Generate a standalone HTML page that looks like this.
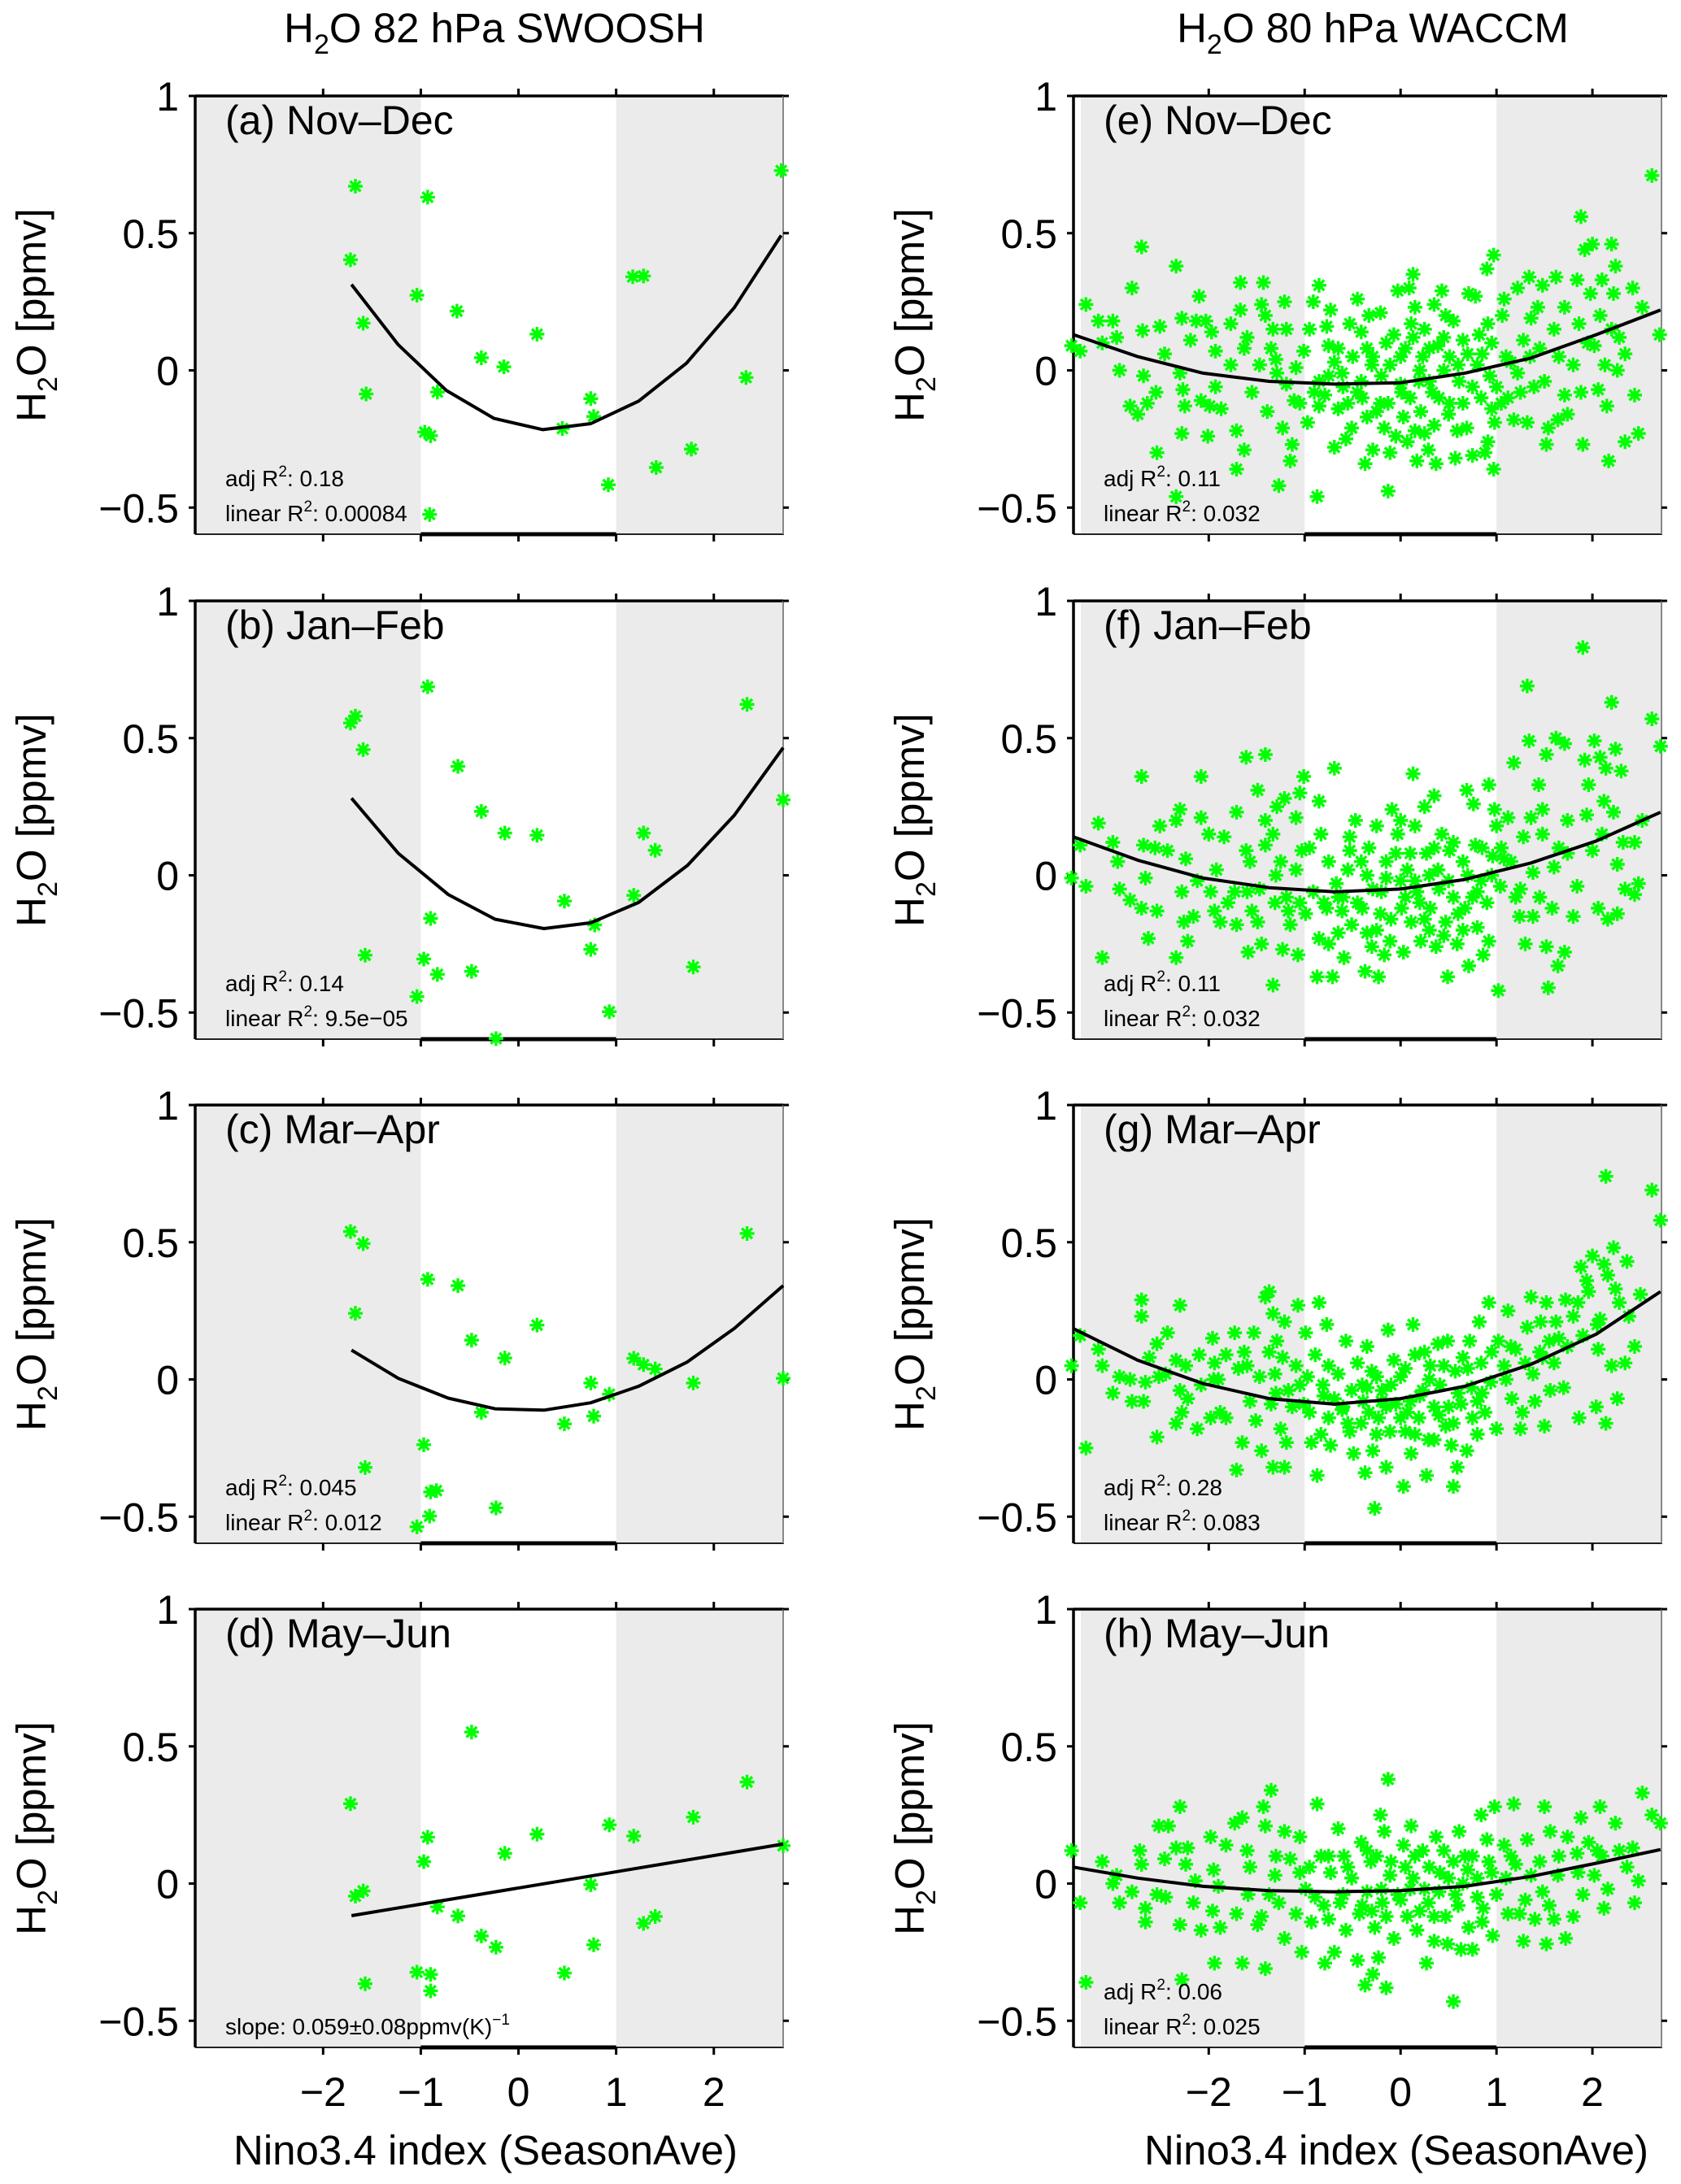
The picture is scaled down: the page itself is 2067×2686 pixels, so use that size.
<!DOCTYPE html>
<html><head><meta charset="utf-8"><title>H2O vs Nino3.4</title>
<style>
html,body{margin:0;padding:0;background:#fff;}
svg{display:block;font-family:"Liberation Sans",Arial,sans-serif;}
.stat{font-family:"Liberation Sans Narrow","Liberation Sans",sans-serif;}
</style></head>
<body>
<svg id="fig" xmlns="http://www.w3.org/2000/svg" width="2067" height="2686" viewBox="0 0 2067 2686">
<rect x="0" y="0" width="2067" height="2686" fill="#fff"/>
<text x="608" y="52" font-size="51" text-anchor="middle">H<tspan font-size="34" dy="14">2</tspan><tspan dy="-14">O 82 hPa SWOOSH</tspan></text>
<text x="1688" y="52" font-size="51" text-anchor="middle">H<tspan font-size="34" dy="14">2</tspan><tspan dy="-14">O 80 hPa WACCM</tspan></text>
<text x="597" y="2662" font-size="51" text-anchor="middle">Nino3.4 index (SeasonAve)</text>
<text x="1717" y="2662" font-size="51" text-anchor="middle">Nino3.4 index (SeasonAve)</text>
<g id="plots"></g>
</svg>
<script>
// ---------------- data ----------------
const xTicks = [-2, -1, 0, 1, 2];
const xTickLabels = ["\u22122", "\u22121", "0", "1", "2"];
const yTicks = [1, 0.5, 0, -0.5];
const yTickLabels = ["1", "0.5", "0", "\u22120.5"];

const aPts = [[-1.67,0.671],[-1.72,0.403],[-1.59,0.172],[-1.56,-0.086],[-0.93,0.631],[-1.04,0.274],[-0.63,0.216],[-0.83,-0.079],[-0.96,-0.225],[-0.90,-0.238],[-0.91,-0.525],[-0.38,0.046],[-0.15,0.013],[0.19,0.132],[0.45,-0.212],[0.74,-0.103],[0.77,-0.168],[0.92,-0.417],[1.17,0.341],[1.28,0.344],[1.41,-0.354],[1.77,-0.287],[2.33,-0.026],[2.69,0.728]];
const aCurveX = [-1.71,-1.23,-0.74,-0.25,0.25,0.74,1.23,1.72,2.21,2.69];
const aCurveY = [0.313,0.093,-0.073,-0.175,-0.216,-0.194,-0.112,0.026,0.229,0.492];

const bPts = [[-1.72,0.555],[-1.67,0.58],[-1.59,0.458],[-0.93,0.687],[-0.62,0.397],[-0.38,0.233],[-0.14,0.154],[0.19,0.146],[1.28,0.154],[1.40,0.091],[0.47,-0.094],[1.18,-0.073],[0.78,-0.181],[0.74,-0.27],[-0.90,-0.157],[-1.57,-0.291],[-0.97,-0.305],[-0.83,-0.361],[-0.48,-0.35],[-1.04,-0.442],[0.93,-0.497],[-0.23,-0.595],[1.79,-0.334],[2.34,0.623],[2.71,0.275]];
const bCurveX = [-1.71,-1.23,-0.72,-0.24,0.26,0.74,1.23,1.73,2.21,2.71];
const bCurveY = [0.281,0.080,-0.070,-0.160,-0.194,-0.173,-0.099,0.036,0.219,0.465];

const cPts = [[-1.72,0.539],[-1.59,0.495],[-1.67,0.241],[-0.93,0.365],[-0.62,0.342],[0.19,0.198],[-0.48,0.143],[-0.14,0.078],[1.18,0.077],[1.28,0.054],[1.40,0.038],[0.74,-0.013],[1.79,-0.013],[2.71,0.004],[0.93,-0.054],[-0.38,-0.120],[0.47,-0.162],[0.77,-0.134],[-0.97,-0.238],[-1.57,-0.321],[-0.90,-0.410],[-0.84,-0.405],[-0.23,-0.468],[-0.91,-0.498],[-1.04,-0.537],[2.34,0.532]];
const cCurveX = [-1.71,-1.23,-0.72,-0.24,0.26,0.74,1.23,1.73,2.21,2.71];
const cCurveY = [0.107,0.004,-0.068,-0.107,-0.112,-0.085,-0.025,0.064,0.186,0.342];

const dPts = [[-1.72,0.291],[-1.59,-0.027],[-1.67,-0.046],[-1.57,-0.365],[-1.04,-0.323],[-0.90,-0.331],[-0.90,-0.391],[-0.97,0.080],[-0.93,0.169],[-0.83,-0.085],[-0.62,-0.118],[-0.48,0.552],[-0.38,-0.191],[-0.23,-0.232],[-0.14,0.110],[0.19,0.180],[0.47,-0.326],[0.74,-0.004],[0.77,-0.223],[0.93,0.214],[1.18,0.173],[1.28,-0.145],[1.40,-0.120],[1.79,0.242],[2.34,0.370],[2.71,0.138]];
const dCurveX = [-1.71, 2.71];
const dCurveY = [-0.117, 0.144];

const ePts = [[-3.43,0.09],[-3.34,0.07],[-3.28,0.24],[-3.15,0.18],[-3.0,0.18],[-2.96,0.12],[-3.11,0.10],[-2.93,0.0],[-2.80,0.30],[-2.70,0.45],[-2.69,0.145],[-2.68,-0.02],[-2.82,-0.13],[-2.74,-0.16],[-2.64,-0.12],[-2.55,-0.08],[-2.54,-0.30],[-2.51,0.16],[-2.46,0.06],[-2.34,0.38],[-2.34,-0.46],[-2.28,0.19],[-2.30,-0.01],[-2.27,-0.07],[-2.25,-0.13],[-2.28,-0.23],[-2.19,0.11],[-2.10,0.27],[-2.13,0.18],[-2.08,-0.11],[-2.03,0.18],[-2.01,-0.24],[-1.99,-0.13],[-1.97,0.14],[-1.93,0.07],[-1.93,-0.06],[-1.87,-0.14],[-1.77,0.17],[-1.77,0.02],[-1.71,-0.22],[-1.71,-0.36],[-1.67,0.32],[-1.67,0.22],[-1.63,0.08],[-1.63,-0.29],[-1.55,-0.08],[-1.47,0.02],[-1.43,0.32],[-1.45,0.24],[-1.41,0.20],[-1.39,-0.15],[-1.33,0.15],[-1.35,0.08],[-1.29,-0.01],[-1.27,-0.42],[-1.23,-0.21],[-1.21,0.25],[-1.19,0.15],[-1.19,-0.05],[-1.15,-0.33],[-1.13,-0.27],[-1.11,-0.11],[-1.09,0.01],[-1.01,0.07],[-0.97,-0.19],[-0.91,0.25],[-0.85,0.31],[-0.87,-0.46],[-0.85,-0.13],[-0.85,-0.04],[-0.79,-0.09],[-0.77,0.16],[-0.75,0.09],[-0.73,0.22],[-0.69,0.03],[-0.69,-0.28],[-0.65,-0.14],[-0.61,-0.01],[-0.57,-0.25],[-0.53,0.17],[-0.51,-0.21],[-0.45,0.26],[-0.45,-0.08],[-0.41,0.14],[-0.41,-0.04],[-0.37,-0.34],[-0.35,-0.17],[-0.33,0.20],[-0.29,0.05],[-0.29,-0.29],[-0.21,0.21],[-0.21,-0.12],[-0.17,-0.21],[-0.13,-0.44],[-0.13,-0.12],[-0.11,0.02],[-0.11,-0.30],[-0.07,0.13],[-0.05,-0.24],[-0.03,0.29],[0.01,-0.08],[0.03,-0.17],[0.07,-0.26],[0.09,0.30],[0.11,0.17],[0.13,0.35],[0.13,0.12],[0.15,0.23],[0.17,-0.33],[0.19,-0.04],[0.21,-0.15],[0.23,0.05],[0.25,-0.23],[0.29,-0.29],[0.33,-0.08],[0.35,0.24],[0.37,-0.34],[0.39,0.09],[0.43,0.29],[0.45,0.0],[0.47,0.20],[0.51,-0.12],[0.51,0.05],[0.57,-0.32],[0.59,-0.22],[0.61,-0.04],[0.65,0.11],[0.69,-0.21],[0.71,0.28],[0.75,-0.31],[0.78,0.27],[0.80,0.02],[0.82,0.13],[0.84,-0.10],[0.88,-0.30],[0.90,0.37],[0.91,0.17],[0.91,-0.26],[0.93,-0.02],[0.95,-0.14],[0.97,0.42],[0.97,-0.36],[0.98,-0.19],[1.0,-0.06],[1.06,0.20],[1.08,0.26],[1.10,0.05],[1.12,-0.10],[1.18,-0.18],[1.22,-0.01],[1.22,0.30],[1.28,0.11],[1.32,-0.19],[1.34,0.34],[1.36,0.19],[1.39,-0.06],[1.43,0.23],[1.48,0.31],[1.50,-0.04],[1.52,-0.27],[1.54,-0.21],[1.60,0.15],[1.62,0.34],[1.64,-0.18],[1.71,0.23],[1.71,-0.09],[1.74,-0.16],[1.80,0.02],[1.84,0.33],[1.86,0.17],[1.88,0.56],[1.90,-0.27],[1.88,-0.08],[1.92,0.44],[1.98,0.28],[2.0,0.46],[2.02,0.09],[2.06,-0.07],[2.08,0.20],[2.10,0.33],[2.13,0.02],[2.15,-0.13],[2.17,-0.33],[2.20,0.46],[2.22,0.28],[2.24,0.38],[2.26,0.0],[2.28,0.12],[2.34,-0.26],[2.34,0.06],[2.42,0.30],[2.44,-0.09],[2.48,-0.23],[2.52,0.23],[2.62,0.71],[2.70,0.13],[-0.6,-0.06],[-0.4,-0.1],[-0.2,-0.02],[0.0,-0.05],[0.2,0.0],[0.4,-0.1],[0.6,0.02],[-0.9,-0.08],[0.3,0.08],[-0.3,0.02],[0.7,0.06],[0.1,-0.1],[-0.5,0.05],[0.5,-0.16],[-0.55,-0.12],[-0.25,-0.15],[0.05,0.08],[0.35,-0.2],[0.65,-0.12],[0.85,0.06],[-0.75,-0.02],[-0.15,0.1],[0.15,-0.22],[0.45,0.12],[0.75,-0.06],[0.95,0.1],[-1.05,-0.12],[1.15,0.03],[1.25,-0.08],[1.45,0.08],[1.65,0.05],[1.95,0.1],[-1.3,0.04],[-1.6,0.12],[-0.95,0.15],[0.25,0.15],[0.55,0.18],[-0.35,0.08],[0.0,0.05],[0.3,-0.04],[-0.65,0.08],[1.05,-0.12],[1.35,0.05],[2.2,0.15]];
const eCurveX = [-3.41,-2.74,-2.06,-1.37,-0.69,0,0.67,1.36,2.04,2.71];
const eCurveY = [0.13,0.05,-0.01,-0.04,-0.05,-0.045,-0.01,0.045,0.13,0.22];

const fPts = [[-3.43,-0.01],[-3.28,-0.04],[-3.34,0.11],[-3.15,0.19],[-3.11,-0.30],[-3.0,0.12],[-2.95,0.05],[-2.93,-0.05],[-2.82,-0.09],[-2.70,0.36],[-2.70,-0.12],[-2.68,0.11],[-2.66,-0.01],[-2.63,-0.23],[-2.54,-0.13],[-2.56,0.10],[-2.51,0.18],[-2.43,0.09],[-2.34,-0.30],[-2.30,0.24],[-2.34,0.20],[-2.28,-0.06],[-2.26,-0.17],[-2.24,0.06],[-2.22,-0.24],[-2.16,-0.15],[-2.12,-0.02],[-2.08,0.36],[-2.08,0.21],[-2.0,0.15],[-1.98,-0.06],[-1.94,-0.13],[-1.92,0.02],[-1.88,-0.17],[-1.84,0.14],[-1.80,-0.10],[-1.73,-0.06],[-1.71,0.23],[-1.71,-0.18],[-1.61,0.43],[-1.61,0.09],[-1.59,-0.28],[-1.57,0.05],[-1.55,-0.13],[-1.49,0.31],[-1.49,-0.17],[-1.47,-0.05],[-1.45,-0.25],[-1.41,0.44],[-1.41,0.20],[-1.41,0.11],[-1.33,0.15],[-1.33,-0.40],[-1.31,-0.10],[-1.29,0.25],[-1.25,0.05],[-1.23,-0.27],[-1.21,0.28],[-1.19,-0.08],[-1.17,-0.13],[-1.15,-0.18],[-1.09,0.21],[-1.09,0.02],[-1.07,-0.29],[-1.05,0.30],[-1.03,0.09],[-1.01,0.36],[-0.99,-0.14],[-0.91,-0.06],[-0.87,-0.37],[-0.85,0.27],[-0.85,-0.23],[-0.83,0.15],[-0.77,-0.12],[-0.75,-0.25],[-0.71,-0.37],[-0.69,0.39],[-0.67,-0.03],[-0.65,-0.21],[-0.61,-0.13],[-0.59,-0.30],[-0.53,0.09],[-0.53,0.14],[-0.51,-0.18],[-0.47,0.20],[-0.45,-0.10],[-0.41,0.05],[-0.37,-0.35],[-0.35,-0.21],[-0.33,0.10],[-0.29,-0.05],[-0.25,0.18],[-0.23,-0.37],[-0.21,-0.14],[-0.17,-0.29],[-0.15,-0.01],[-0.11,-0.24],[-0.09,0.24],[-0.05,0.08],[-0.03,0.15],[0.01,-0.12],[0.03,-0.28],[0.07,0.02],[0.11,-0.17],[0.13,0.37],[0.15,0.18],[0.17,-0.06],[0.21,-0.24],[0.25,0.25],[0.27,0.08],[0.31,-0.12],[0.35,0.29],[0.37,-0.26],[0.39,0.02],[0.43,0.15],[0.47,-0.17],[0.49,-0.37],[0.51,0.09],[0.55,-0.08],[0.59,-0.25],[0.65,0.05],[0.67,-0.12],[0.69,0.31],[0.71,-0.33],[0.76,0.26],[0.78,0.11],[0.80,-0.19],[0.84,-0.02],[0.86,-0.29],[0.90,-0.10],[0.92,0.33],[0.92,-0.24],[0.96,0.07],[0.98,0.24],[1.0,0.18],[1.02,-0.42],[1.04,-0.04],[1.08,0.06],[1.12,0.21],[1.18,0.41],[1.20,-0.08],[1.24,-0.15],[1.28,0.14],[1.30,-0.25],[1.32,0.69],[1.34,0.49],[1.36,0.21],[1.38,0.01],[1.38,-0.15],[1.44,0.33],[1.48,0.24],[1.48,0.15],[1.52,0.44],[1.52,-0.26],[1.54,-0.41],[1.58,-0.12],[1.60,0.03],[1.62,0.50],[1.64,-0.33],[1.71,0.48],[1.71,-0.28],[1.74,0.20],[1.74,0.08],[1.80,-0.15],[1.84,-0.04],[1.90,0.83],[1.92,0.42],[1.94,0.22],[1.96,0.33],[2.0,0.09],[2.02,0.49],[2.06,-0.12],[2.08,0.43],[2.10,0.15],[2.12,0.27],[2.14,0.39],[2.16,-0.16],[2.20,0.63],[2.22,0.23],[2.24,0.46],[2.26,-0.14],[2.26,0.04],[2.30,0.38],[2.32,0.12],[2.34,-0.05],[2.44,0.12],[2.44,-0.07],[2.48,-0.03],[2.52,0.20],[2.62,0.57],[2.71,0.47],[-0.6,-0.08],[-0.4,-0.12],[-0.2,-0.06],[0.0,-0.02],[0.2,-0.1],[0.4,-0.05],[0.6,-0.14],[0.8,-0.06],[-0.1,-0.16],[0.3,-0.2],[-0.8,-0.1],[0.5,-0.02],[0.1,0.08],[-0.3,-0.26],[0.7,0.0],[-0.55,0.02],[-0.25,-0.2],[0.05,-0.08],[0.35,0.1],[0.65,-0.2],[0.85,0.1],[-0.75,0.05],[-0.15,0.05],[0.15,-0.02],[0.45,-0.22],[0.75,-0.08],[0.95,0.0],[-1.05,-0.1],[1.15,0.05],[1.25,-0.05],[1.45,-0.08],[1.65,0.1],[-1.3,0.0],[-1.6,-0.06],[-0.95,0.1],[0.25,-0.16],[0.55,0.12],[-0.35,0.0],[0.0,0.2],[0.3,0.0],[-0.65,-0.08],[1.05,0.1]];
const fCurveX = [-3.41,-2.74,-2.06,-1.37,-0.69,0,0.67,1.36,2.04,2.71];
const fCurveY = [0.14,0.055,-0.01,-0.045,-0.06,-0.05,-0.015,0.045,0.125,0.23];

const gPts = [[-3.43,0.05],[-3.34,0.16],[-3.28,-0.25],[-3.15,0.11],[-3.11,0.05],[-3.0,-0.05],[-2.93,0.01],[-2.82,0.0],[-2.80,-0.08],[-2.70,0.29],[-2.70,0.23],[-2.68,-0.08],[-2.66,-0.01],[-2.62,0.08],[-2.54,-0.21],[-2.54,0.13],[-2.52,0.01],[-2.43,0.17],[-2.34,0.07],[-2.34,-0.16],[-2.30,0.27],[-2.30,-0.04],[-2.28,-0.12],[-2.24,0.05],[-2.22,-0.07],[-2.12,-0.18],[-2.10,0.09],[-2.08,-0.02],[-1.98,-0.14],[-1.96,0.15],[-1.94,0.06],[-1.90,0.0],[-1.88,-0.12],[-1.82,-0.14],[-1.82,0.09],[-1.73,0.17],[-1.71,-0.33],[-1.69,0.04],[-1.65,-0.23],[-1.63,0.10],[-1.57,-0.08],[-1.53,0.17],[-1.51,-0.15],[-1.47,0.01],[-1.45,-0.26],[-1.41,0.30],[-1.37,0.32],[-1.37,0.10],[-1.35,-0.09],[-1.33,0.24],[-1.33,-0.32],[-1.31,0.02],[-1.29,0.14],[-1.25,-0.18],[-1.23,0.08],[-1.21,0.21],[-1.21,-0.32],[-1.19,-0.23],[-1.17,-0.04],[-1.13,-0.10],[-1.09,0.05],[-1.07,0.27],[-1.01,-0.09],[-0.99,0.17],[-0.97,0.01],[-0.93,-0.23],[-0.89,0.09],[-0.87,-0.35],[-0.85,0.28],[-0.83,-0.20],[-0.81,-0.02],[-0.77,0.20],[-0.75,-0.14],[-0.73,-0.24],[-0.69,-0.07],[-0.65,0.02],[-0.61,-0.11],[-0.57,0.14],[-0.53,-0.19],[-0.51,-0.04],[-0.49,-0.27],[-0.45,0.06],[-0.41,-0.16],[-0.39,-0.08],[-0.37,-0.34],[-0.35,0.12],[-0.33,-0.12],[-0.29,-0.26],[-0.27,-0.47],[-0.25,0.01],[-0.23,-0.14],[-0.19,-0.04],[-0.15,-0.32],[-0.13,0.18],[-0.11,-0.19],[-0.07,0.07],[-0.05,-0.09],[0.0,0.01],[0.03,-0.39],[0.05,-0.19],[0.07,-0.12],[0.11,-0.27],[0.13,0.20],[0.15,0.09],[0.19,-0.14],[0.23,-0.04],[0.27,-0.35],[0.29,-0.22],[0.31,0.05],[0.35,-0.10],[0.39,0.13],[0.41,-0.02],[0.47,-0.17],[0.49,0.14],[0.53,-0.24],[0.55,-0.39],[0.57,0.03],[0.59,-0.32],[0.63,-0.09],[0.69,-0.26],[0.72,0.14],[0.74,-0.03],[0.80,-0.20],[0.82,0.21],[0.84,0.06],[0.88,-0.12],[0.92,0.28],[0.94,-0.01],[1.0,-0.18],[1.02,0.14],[1.08,0.05],[1.12,0.25],[1.16,-0.07],[1.20,0.11],[1.25,-0.18],[1.27,-0.12],[1.32,0.19],[1.36,0.30],[1.38,0.02],[1.40,-0.08],[1.46,0.21],[1.48,0.08],[1.50,-0.17],[1.52,0.28],[1.56,-0.04],[1.60,0.06],[1.62,0.21],[1.70,-0.03],[1.72,0.29],[1.74,0.12],[1.80,0.23],[1.86,-0.14],[1.88,0.41],[1.90,0.16],[1.94,0.36],[1.96,0.32],[2.0,0.45],[2.04,-0.10],[2.06,0.11],[2.08,0.22],[2.12,0.42],[2.14,0.74],[2.14,-0.16],[2.16,0.38],[2.20,0.05],[2.22,0.48],[2.24,0.33],[2.26,-0.07],[2.28,0.28],[2.34,0.06],[2.36,0.43],[2.38,0.23],[2.44,0.12],[2.50,0.31],[2.62,0.69],[2.71,0.58],[-0.6,-0.1],[-0.4,-0.02],[-0.2,-0.08],[0.0,-0.14],[0.2,-0.06],[0.4,-0.13],[0.6,-0.05],[0.8,-0.08],[-0.1,-0.02],[0.3,0.0],[-0.8,-0.06],[0.5,-0.1],[0.1,-0.08],[-0.3,0.03],[0.7,0.04],[1.1,0.0],[1.3,0.06],[-0.55,-0.16],[-0.25,-0.2],[0.05,0.04],[0.35,-0.22],[0.65,0.08],[0.85,-0.05],[-0.75,0.05],[-0.15,-0.1],[0.15,-0.2],[0.45,0.05],[0.75,-0.14],[0.95,0.1],[-1.05,-0.02],[1.15,0.12],[1.45,0.1],[1.65,0.15],[-1.3,-0.05],[-1.6,0.05],[-0.95,-0.12],[0.25,0.1],[0.55,-0.16],[-0.35,-0.03],[1.85,0.28],[2.05,0.2],[1.55,0.14],[-1.95,0.0],[-2.45,0.02]];
const gCurveX = [-3.41,-2.74,-2.06,-1.37,-0.69,0,0.67,1.36,2.04,2.71];
const gCurveY = [0.185,0.07,-0.015,-0.07,-0.09,-0.07,-0.025,0.055,0.165,0.32];

const hPts = [[-3.43,0.12],[-3.34,-0.07],[-3.28,-0.36],[-3.11,0.08],[-3.0,0.0],[-2.96,0.03],[-2.93,-0.07],[-2.80,-0.03],[-2.72,0.12],[-2.70,0.07],[-2.66,-0.09],[-2.66,-0.14],[-2.54,-0.04],[-2.52,0.21],[-2.46,0.09],[-2.42,0.21],[-2.34,0.13],[-2.30,0.28],[-2.30,-0.15],[-2.28,-0.35],[-2.24,0.07],[-2.22,0.13],[-2.16,-0.07],[-2.14,0.01],[-2.08,-0.17],[-1.98,0.17],[-1.96,-0.10],[-1.94,-0.29],[-1.90,-0.01],[-1.88,-0.16],[-1.82,0.14],[-1.73,0.22],[-1.71,-0.11],[-1.65,0.24],[-1.65,-0.29],[-1.59,-0.04],[-1.57,0.06],[-1.49,-0.15],[-1.45,-0.12],[-1.43,0.28],[-1.41,-0.31],[-1.41,0.21],[-1.37,-0.04],[-1.35,0.34],[-1.31,0.03],[-1.27,-0.07],[-1.21,-0.20],[-1.21,0.19],[-1.15,0.09],[-1.09,-0.11],[-1.05,0.17],[-1.03,-0.25],[-0.99,-0.02],[-0.93,-0.14],[-0.89,-0.05],[-0.87,0.29],[-0.83,0.10],[-0.79,-0.29],[-0.75,-0.13],[-0.73,0.04],[-0.69,-0.25],[-0.65,0.20],[-0.63,-0.07],[-0.59,0.10],[-0.57,-0.17],[-0.51,0.02],[-0.45,-0.28],[-0.43,-0.11],[-0.41,0.15],[-0.37,-0.37],[-0.35,-0.03],[-0.31,0.08],[-0.29,-0.33],[-0.27,-0.16],[-0.23,-0.27],[-0.21,0.25],[-0.19,-0.07],[-0.17,0.19],[-0.15,-0.38],[-0.13,0.38],[-0.11,0.03],[-0.07,-0.20],[-0.03,-0.04],[0.03,0.14],[0.07,-0.12],[0.11,0.21],[0.13,0.02],[0.17,-0.17],[0.23,0.12],[0.27,-0.29],[0.29,-0.07],[0.35,-0.21],[0.37,0.17],[0.41,0.04],[0.47,-0.12],[0.49,-0.22],[0.55,-0.43],[0.57,-0.04],[0.61,0.19],[0.63,-0.24],[0.67,0.10],[0.71,-0.16],[0.75,-0.24],[0.80,0.02],[0.84,0.25],[0.86,-0.09],[0.90,0.16],[0.92,0.08],[0.96,-0.19],[0.98,0.28],[1.0,-0.04],[1.08,0.14],[1.12,-0.11],[1.18,0.29],[1.20,0.07],[1.24,-0.11],[1.28,-0.21],[1.32,0.16],[1.36,0.03],[1.40,-0.13],[1.48,-0.03],[1.50,0.28],[1.52,-0.22],[1.56,0.19],[1.60,-0.13],[1.64,0.03],[1.72,-0.20],[1.74,0.17],[1.80,-0.12],[1.84,0.11],[1.88,0.24],[1.90,-0.04],[1.96,0.15],[2.02,0.03],[2.08,0.28],[2.10,0.10],[2.12,-0.09],[2.16,-0.02],[2.24,0.22],[2.28,0.12],[2.36,0.06],[2.42,0.13],[2.44,-0.07],[2.48,0.01],[2.52,0.33],[2.62,0.25],[2.71,0.22],[-0.6,-0.04],[-0.4,-0.08],[-0.2,-0.02],[0.0,-0.06],[0.2,-0.1],[0.4,-0.03],[0.6,-0.08],[0.8,-0.05],[-0.1,0.08],[0.3,0.06],[-0.8,-0.08],[0.5,0.02],[0.1,-0.02],[-0.3,-0.1],[0.7,0.05],[1.1,0.02],[1.3,-0.06],[-0.55,0.06],[-0.25,0.1],[0.05,0.06],[0.35,-0.12],[0.65,0.0],[0.85,-0.14],[-0.75,0.1],[-0.15,-0.12],[0.15,0.1],[0.45,0.12],[0.75,0.1],[0.95,0.04],[-1.05,0.04],[1.15,0.1],[1.45,0.08],[1.65,0.1],[-1.3,0.1],[-1.6,0.12],[-0.95,0.06],[0.25,-0.02],[0.55,0.08],[-0.35,0.12],[1.85,0.04],[2.05,0.12],[1.55,-0.08],[-1.95,0.05],[-2.45,-0.05]];
const hCurveX = [-3.41,-2.74,-2.06,-1.37,-0.69,0,0.67,1.36,2.04,2.71];
const hCurveY = [0.06,0.02,-0.01,-0.026,-0.03,-0.026,-0.01,0.026,0.074,0.124];

const panelLabels = ["(a) Nov\u2013Dec","(b) Jan\u2013Feb","(c) Mar\u2013Apr","(d) May\u2013Jun","(e) Nov\u2013Dec","(f) Jan\u2013Feb","(g) Mar\u2013Apr","(h) May\u2013Jun"];
const adjR2 = ["0.18","0.14","0.045",null,"0.11","0.11","0.28","0.06"];
const linR2 = ["0.00084","9.5e\u221205","0.012",null,"0.032","0.032","0.083","0.025"];

// ---------------- layout ----------------
const NS = "http://www.w3.org/2000/svg";
const cols = [{L:240,R:963,xmin:-3.31,xmax:2.71,shadeL:240},{L:1320,R:2043,xmin:-3.41,xmax:2.72,shadeL:1329}];
const rowTops = [118,739,1359,1979];
const PH = 539, YMIN = -0.597, YMAX = 1.0;
const root = document.getElementById('plots');

function el(tag, attrs, parent){
  const e = document.createElementNS(NS, tag);
  for (const k in attrs) e.setAttribute(k, attrs[k]);
  parent.appendChild(e);
  return e;
}

const panels = [
  {pts:aPts,cx:aCurveX,cy:aCurveY},{pts:bPts,cx:bCurveX,cy:bCurveY},
  {pts:cPts,cx:cCurveX,cy:cCurveY},{pts:dPts,cx:dCurveX,cy:dCurveY},
  {pts:ePts,cx:eCurveX,cy:eCurveY},{pts:fPts,cx:fCurveX,cy:fCurveY},
  {pts:gPts,cx:gCurveX,cy:gCurveY},{pts:hPts,cx:hCurveX,cy:hCurveY}
];

panels.forEach((p, i) => {
  const col = cols[Math.floor(i/4)];
  const row = i % 4;
  const T = rowTops[row], B = T + PH;
  const sx = v => col.L + (v - col.xmin) / (col.xmax - col.xmin) * (col.R - col.L);
  const sy = v => B - (v - YMIN) / (YMAX - YMIN) * PH;
  const letter = "abcdefgh"[i];
  const g = el('g', {}, root);
  
  

  const s1 = el('rect', {x:col.shadeL, y:T, width:sx(-1)-col.shadeL, height:PH, fill:'#ebebeb'}, g);
  
  
  const s2 = el('rect', {x:sx(1), y:T, width:col.R-sx(1), height:PH, fill:'#ebebeb'}, g);
  
  

  const fr = el('path', {d:`M${col.L},${B} L${col.L},${T} L${col.R},${T} M${col.R},${T} L${col.R},${B} L${col.L},${B}`, fill:'none', stroke:'#222', 'stroke-width':2}, g);
  
  
  el('line', {x1:col.L, y1:T, x2:col.L, y2:B, stroke:'#000', 'stroke-width':3.5}, g);
  el('line', {x1:col.L, y1:T, x2:col.R, y2:T, stroke:'#000', 'stroke-width':3.5}, g);
  el('line', {x1:col.R, y1:T, x2:col.R, y2:B, stroke:'#aaa', 'stroke-width':1.5}, g);
  const bx = el('line', {x1:sx(-1), y1:B, x2:sx(1), y2:B, stroke:'#000', 'stroke-width':5}, g);
  
  

  xTicks.forEach((v, k) => {
    el('line', {x1:sx(v), y1:T, x2:sx(v), y2:T-9, stroke:'#000', 'stroke-width':3}, g);
    el('line', {x1:sx(v), y1:B, x2:sx(v), y2:B+9, stroke:'#000', 'stroke-width':3}, g);
    if (row === 3) {
      const t = el('text', {x:sx(v), y:2590, 'font-size':50, 'text-anchor':'middle'}, g);
      
      
      t.textContent = xTickLabels[k];
    }
  });
  yTicks.forEach((v, k) => {
    el('line', {x1:col.L, y1:sy(v), x2:col.L-8, y2:sy(v), stroke:'#000', 'stroke-width':3}, g);
    el('line', {x1:col.R, y1:sy(v), x2:col.R+7, y2:sy(v), stroke:'#000', 'stroke-width':3}, g);
    const t = el('text', {x:col.L-20, y:sy(v)+18, 'font-size':50, 'text-anchor':'end'}, g);
    
    
    t.textContent = yTickLabels[k];
  });

  const yc = (T + B) / 2;
  const yx = col.L - 184;
  const yt = el('text', {x:yx, y:yc, 'font-size':51, 'text-anchor':'middle', transform:`rotate(-90 ${yx} ${yc})`}, g);
  
  
  yt.innerHTML = 'H<tspan font-size="34" dy="14">2</tspan><tspan dy="-14">O [ppmv]</tspan>';

  p.pts.forEach(pt => {
    const X = sx(pt[0]), Y = sy(pt[1]), r = 9, q = 6.4;
    const m = el('path', {d:`M${X-r},${Y}H${X+r}M${X},${Y-r}V${Y+r}M${X-q},${Y-q}L${X+q},${Y+q}M${X-q},${Y+q}L${X+q},${Y-q}`, stroke:'#00ff00', 'stroke-width':3.4, fill:'none'}, g);
    
    
  });

  const d = p.cx.map((v, k) => (k ? 'L' : 'M') + sx(v).toFixed(1) + ',' + sy(p.cy[k]).toFixed(1)).join('');
  const c = el('path', {d:d, fill:'none', stroke:'#000', 'stroke-width':4, 'stroke-linejoin':'round'}, g);
  
  

  const lb = el('text', {x:col.L+37, y:T+47, 'font-size':50}, g);
  
  
  lb.textContent = panelLabels[i];

  if (adjR2[i] !== null) {
    const s = el('text', {x:col.L+37, y:T+480, 'font-size':28, class:'stat'}, g);
    
    
    s.innerHTML = 'adj R<tspan font-size="19" dy="-12">2</tspan><tspan dy="12">: ' + adjR2[i] + '</tspan>';
    const s3 = el('text', {x:col.L+37, y:T+523, 'font-size':28, class:'stat'}, g);
    
    
    s3.innerHTML = 'linear R<tspan font-size="19" dy="-12">2</tspan><tspan dy="12">: ' + linR2[i] + '</tspan>';
  } else {
    const s = el('text', {x:col.L+37, y:T+523, 'font-size':28, class:'stat'}, g);
    
    
    s.innerHTML = 'slope: 0.059\u00b10.08ppmv(K)<tspan font-size="19" dy="-12">\u22121</tspan>';
  }
});
</script>
</body></html>
